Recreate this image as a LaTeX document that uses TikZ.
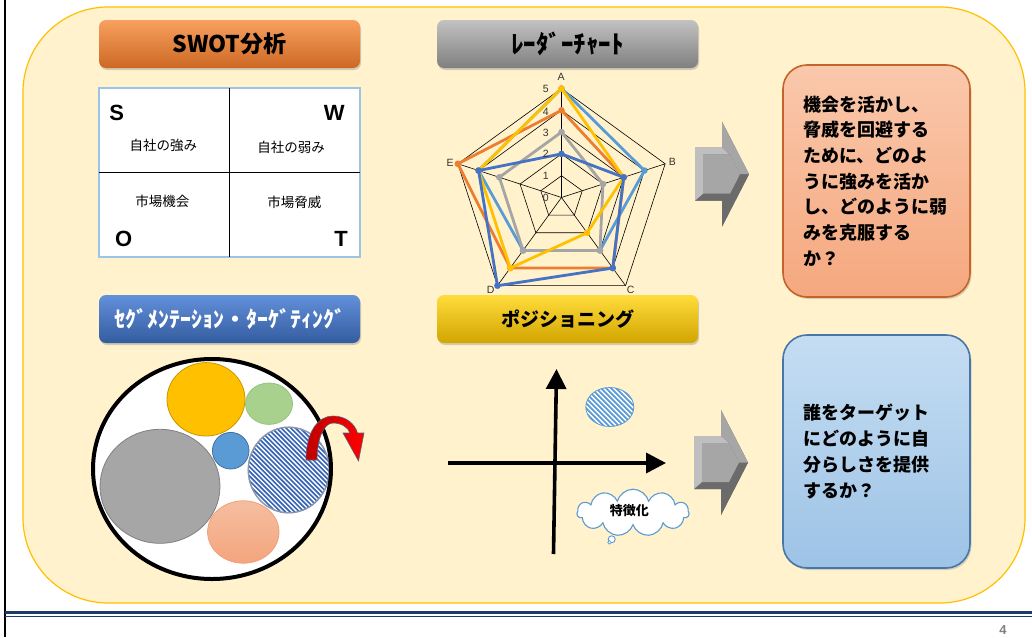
\documentclass[tikz,border=0pt]{standalone}
\usepackage{fontspec}
\setmainfont{Liberation Sans}
\newfontfamily\jp{Noto Sans CJK JP}
\usetikzlibrary{arrows.meta,shapes.symbols,shadows}
\definecolor{bgfill}{HTML}{FFF2CC}
\definecolor{bgline}{HTML}{FFC000}
\definecolor{navy}{HTML}{1F3A68}
\definecolor{rOr}{HTML}{ED7D31}
\definecolor{rGy}{HTML}{A5A5A5}
\definecolor{rYe}{HTML}{FFC000}
\definecolor{rDb}{HTML}{4472C4}
\definecolor{rLb}{HTML}{5B9BD5}
\definecolor{stripeA}{HTML}{3A66B8}
\definecolor{hatchedge}{HTML}{8A96AA}
\newcommand\ru{21.8pt}
\newcommand\radarseries[6]{%
  \draw[line width=2.8pt,#1,line join=round] (90:#2*\ru) -- (18:#3*\ru) -- (-54:#4*\ru) -- (-126:#5*\ru) -- (162:#6*\ru) -- cycle;
  \foreach \ang/\v in {90/#2,18/#3,-54/#4,-126/#5,162/#6} \fill[#1] (\ang:\v*\ru) circle (3.3pt);}
\newcommand\blockarrow[1]{%
  \begin{scope}[shift={#1}]
    \fill[gray!75!black] (0,26) -- (27,26) -- (27,0) -- (54,52.5) -- (27,105) -- (27,79) -- (0,79) -- cycle;
    \fill[black!58] (0,79) -- (27,79) -- (27,105) -- (54,52.5) -- (45,52.5) -- (35,72) -- (8,72) -- cycle;
    \fill[black!25] (0,26) -- (27,26) -- (35,33) -- (8,33) -- (8,72) -- (0,79) -- cycle;
    \fill[black!35] (27,26) -- (27,0) -- (54,52.5) -- (45,52.5) -- (35,33) -- cycle;
    \fill[black!35] (8,33) -- (35,33) -- (45,52.5) -- (35,72) -- (8,72) -- cycle;
  \end{scope}}
\begin{document}
\begin{tikzpicture}[x=1pt,y=-1pt,
  btn/.style={minimum width=261pt,minimum height=48pt,inner sep=0pt,rounded corners=7pt,
    font=\jp\bfseries, drop shadow={opacity=0.35,shadow xshift=1pt,shadow yshift=-2pt}},
  swotl/.style={font=\bfseries\fontsize{22pt}{22pt}\selectfont},
  swott/.style={font=\jp\fontsize{13.5pt}{14pt}\selectfont},
  rlab/.style={font=\fontsize{10.5pt}{10.5pt}\selectfont,text=black!80,inner sep=0pt},
  qbox/.style={minimum width=187pt,inner sep=0pt,rounded corners=24pt,line width=1.6pt,
    text width=147pt,align=left,font=\jp\bfseries\fontsize{18pt}{25.7pt}\selectfont,
    drop shadow={opacity=0.3,shadow xshift=1.5pt,shadow yshift=-2pt}},
  axisarrow/.style={line width=3.6pt,-{Triangle[length=20pt,width=20pt]}}]
\useasboundingbox (0,0) rectangle (1032,637);
\fill[white] (0,0) rectangle (1032,637);
% frame
\draw[line width=2pt] (5,0) -- (5,637);
\draw[bgline,fill=bgfill,line width=1.2pt,rounded corners=85pt] (23,7) rectangle (1025,603);
\draw[navy,line width=3.5pt] (5,612.5) -- (1032,612.5);
\draw[navy,line width=1pt] (5,616.8) -- (1032,616.8);
\node[font=\bfseries\fontsize{13pt}{13pt}\selectfont,text=black!50] (pg) at (1003,630) {4};

% buttons
\node[btn,top color={rgb,255:red,248;green,160;blue,95},middle color={rgb,255:red,245;green,138;blue,58},bottom color={rgb,255:red,205;green,104;blue,36},
  font=\jp\bfseries\fontsize{23pt}{23pt}\selectfont] (bswot) at (229.5,44) {SWOT分析};
\node[btn,top color=black!24,middle color=black!33,bottom color=black!50,
  font=\jp\bfseries\fontsize{25pt}{25pt}\selectfont] (bradar) at (567.5,44) {ﾚｰﾀﾞｰﾁｬｰﾄ};
\node[btn,top color={rgb,255:red,98;green,144;blue,218},middle color={rgb,255:red,74;green,124;blue,206},bottom color={rgb,255:red,52;green,92;blue,160},
  text=white,font=\jp\bfseries\fontsize{22pt}{22pt}\selectfont] (bseg) at (229.5,319) {ｾｸﾞﾒﾝﾃｰｼｮﾝ・ﾀｰｹﾞﾃｨﾝｸﾞ};
\node[btn,top color={rgb,255:red,255;green,220;blue,60},middle color={rgb,255:red,255;green,204;blue,0},bottom color={rgb,255:red,210;green,165;blue,0},
  font=\jp\bfseries\fontsize{19pt}{19pt}\selectfont] (bpos) at (567.5,319) {ポジショニング};

% SWOT table
\draw[fill=white,draw={rgb,255:red,157;green,195;blue,230},line width=1.2pt] (99,88) rectangle (360,257);
\draw[line width=1pt] (229.5,88) -- (229.5,257);
\draw[line width=1pt] (99,172.5) -- (360,172.5);
\node[swotl] (sS) at (116.7,113.3) {S};
\node[swotl] (sW) at (334.3,113.3) {W};
\node[swotl] (sO) at (123.7,239.3) {O};
\node[swotl] (sT) at (341,239.3) {T};
\node[swott] (tS) at (163.3,145.7) {自社の強み};
\node[swott] (tW) at (291,147.7) {自社の弱み};
\node[swott] (tO) at (162.3,201) {市場機会};
\node[swott] (tT) at (294.3,202.3) {市場脅威};

% radar chart
\begin{scope}[shift={(561.5,197.5)}]
  \foreach \k in {1,...,5}
    \draw[line width=0.6pt] (90:\k*\ru) -- (18:\k*\ru) -- (-54:\k*\ru) -- (-126:\k*\ru) -- (162:\k*\ru) -- cycle;
  \foreach \ang in {90,18,-54,-126,162}
    \draw[line width=0.6pt] (0,0) -- (\ang:5*\ru);
  \radarseries{rLb}{5}{4}{3}{3}{4}
  \radarseries{rOr}{4}{3}{4}{4}{5}
  \radarseries{rGy}{3}{2}{3}{3}{3}
  \radarseries{rYe}{5}{3}{2}{4}{4}
  \radarseries{rDb}{2}{3}{4}{5}{4}
\end{scope}
\node[rlab] (lA) at (561,76.7) {A};
\node[rlab] (lB) at (672.3,162.3) {B};
\node[rlab] (lC) at (630.7,290) {C};
\node[rlab] (lD) at (490.7,290) {D};
\node[rlab] (lE) at (450,162.7) {E};
\node[rlab] (n5) at (545.7,89.3) {5};
\node[rlab] (n4) at (545.7,112.3) {4};
\node[rlab] (n3) at (545.7,133.3) {3};
\node[rlab] (n2) at (545.7,154) {2};
\node[rlab] (n1) at (545.7,176) {1};
\node[rlab] (n0) at (545.7,198.3) {0};

% block arrows
\blockarrow{(695,121.7)}
\blockarrow{(694,410)}

% question boxes
\node[qbox,minimum height=232pt,top color={rgb,255:red,250;green,200;blue,172},bottom color={rgb,255:red,245;green,168;blue,126},
  draw={rgb,255:red,197;green,100;blue,42}] (qswot) at (876.5,181)
  {機会を活かし、\\脅威を回避する\\ために、どのよ\\うに強みを活か\\し、どのように弱\\みを克服する\\か？};
\node[qbox,minimum height=233pt,top color={rgb,255:red,197;green,221;blue,242},bottom color={rgb,255:red,157;green,195;blue,230},
  draw={rgb,255:red,70;green,118;blue,170}] (qpos) at (876.5,451.5)
  {誰をターゲット\\にどのように自\\分らしさを提供\\するか？};

% segmentation
\fill[white] (212,469) ellipse [x radius=119pt,y radius=110pt];
\draw[fill={rgb,255:red,255;green,192;blue,0},draw={rgb,255:red,200;green,150;blue,0},line width=0.8pt] (206,399.3) ellipse [x radius=39pt,y radius=36.7pt];
\draw[fill={rgb,255:red,169;green,209;blue,142},draw={rgb,255:red,150;green,195;blue,125},line width=0.8pt] (269,403.7) ellipse [x radius=23.5pt,y radius=20.7pt];
\draw[fill={rgb,255:red,91;green,155;blue,213},draw={rgb,255:red,65;green,113;blue,156},line width=0.8pt] (230.7,450.7) ellipse [x radius=18.3pt,y radius=18.3pt];
\draw[fill={rgb,255:red,166;green,166;blue,166},draw=black!50,line width=0.8pt] (160,486.3) ellipse [x radius=60pt,y radius=57pt];
\draw[top color={rgb,255:red,245;green,190;blue,160},bottom color={rgb,255:red,244;green,165;blue,125},draw={rgb,255:red,240;green,160;blue,120},line width=0.8pt] (243.3,532) ellipse [x radius=35.7pt,y radius=31.2pt];
\begin{scope}
  \clip (288.8,470) ellipse [x radius=41pt,y radius=43.3pt];
  \fill[white] (240,420) rectangle (340,520);
  \foreach \i in {-130,-125.3,...,130}
    \draw[stripeA,line width=1.65pt] (288.8+\i-70,470-70) -- (288.8+\i+70,470+70);
\end{scope}
\draw[hatchedge,line width=1.4pt] (288.8,470) ellipse [x radius=40.5pt,y radius=42.8pt];
\draw[line width=4pt] (212,469) ellipse [x radius=119pt,y radius=110pt];
\draw[left color={rgb,255:red,192;green,0;blue,0},right color=red,draw={rgb,255:red,80;green,100;blue,130},line width=0.6pt]
  (306,460) .. controls (306,432) and (318,416) .. (333,416) .. controls (346,416) and (355,424) .. (357.5,433)
  -- (364,433) -- (358.5,461) -- (343,433) -- (350,433)
  .. controls (348,427) and (341,423) .. (333,423) .. controls (324,423) and (317,438) .. (317,460) -- cycle;

% positioning
\coordinate (vb) at (553.5,554);
\coordinate (vt) at (556.5,369);
\coordinate (hl) at (448,463);
\coordinate (hr) at (666,463);
\draw[axisarrow] (vb) -- (vt);
\draw[axisarrow] (hl) -- (hr);
\begin{scope}
  \clip (609.8,407) ellipse [x radius=24pt,y radius=19.5pt];
  \fill[white] (580,385) rectangle (640,430);
  \foreach \i in {-70,-65,...,70}
    \draw[rLb,line width=1.8pt] (609.8+\i-40,407-40) -- (609.8+\i+40,407+40);
\end{scope}
\draw[rLb,line width=0.8pt] (609.8,407) ellipse [x radius=24pt,y radius=19.5pt];
\node[cloud,cloud puffs=11,aspect=2.4,draw=rLb,fill=white,line width=1.1pt,inner sep=0pt,
  minimum width=112pt,minimum height=47pt] (cloud) at (633,512.7) {};
\node[font=\jp\bfseries\fontsize{13pt}{13pt}\selectfont] (feat) at (629.3,510.7) {特徴化};
\draw[rLb,fill=white,line width=0.9pt] (611.7,539.3) circle (3.5pt);
\draw[rLb,fill=white,line width=0.7pt] (609.5,542.3) circle (1.8pt);
\end{tikzpicture}
\end{document}
